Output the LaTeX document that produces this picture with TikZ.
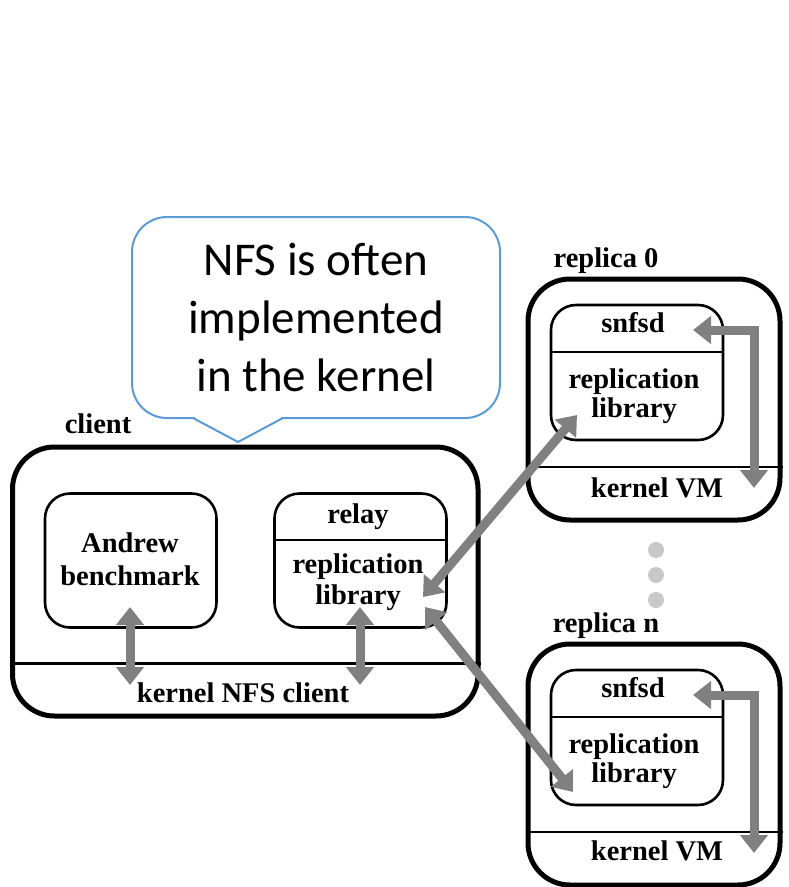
\documentclass[tikz,border=0pt]{standalone}
\usepackage{fontspec}
\setmainfont{Liberation Serif}
\newfontfamily\calloutfont{Carlito}
\usetikzlibrary{arrows.meta}
\definecolor{arrowgray}{HTML}{808080}
\definecolor{dotgray}{HTML}{C8C8C8}
\definecolor{calloutblue}{HTML}{5B9BD5}
\begin{document}
\begin{tikzpicture}[x=1pt,y=-1pt,
  hostbox/.style={draw, line width=5pt, rounded corners=42pt, inner sep=0pt},
  procbox/.style={draw, line width=2.6pt, rounded corners=25pt, inner sep=0pt,
    minimum width=172pt, minimum height=135pt},
  divider/.style={line width=2.6pt},
  lbl/.style={anchor=base, inner sep=0pt, font=\fontsize{28.5}{33}\selectfont\bfseries},
  ctext/.style={anchor=base, inner sep=0pt, font=\calloutfont\fontsize{47}{58}\selectfont},
  garrow/.style={draw=arrowgray, line width=9pt,
    {Triangle[width=27pt,length=18pt]}-{Triangle[width=27pt,length=18pt]}},
  dot/.style={circle, fill=dotgray, minimum size=16pt, inner sep=0pt}]
\useasboundingbox (0,0) rectangle (788,887);

% client host
\node[hostbox, minimum width=465.5pt, minimum height=269pt] (client) at (245.25,581.5) {};
\coordinate (cdiv) at (0,663.5);
\draw[divider] (client.west |- cdiv) -- (client.east |- cdiv);
\node[procbox, minimum width=171.5pt, minimum height=134pt] (andrew) at (130.75,560.5) {};
\node[procbox, minimum height=134pt] (relay) at (360.5,560.5) {};
\coordinate (rdiv) at (0,540);
\draw[divider] (relay.west |- rdiv) -- (relay.east |- rdiv);

\node[lbl] (clientlbl) at (98,433) {client};
\node[lbl] (andrewA) at (130,552) {Andrew};
\node[lbl] (andrewB) at (130,585) {benchmark};
\node[lbl] (relaylbl) at (358,523) {relay};
\node[lbl] (relrepA) at (358,573) {replication};
\node[lbl] (relrepB) at (358,604) {library};
\node[lbl] (nfsclient) at (243,702) {kernel NFS client};

% replica 0
\node[hostbox, minimum width=252pt, minimum height=241pt] (rep0) at (654,399.5) {};
\coordinate (r0div) at (0,467);
\draw[divider] (rep0.west |- r0div) -- (rep0.east |- r0div);
\node[procbox] (rep0in) at (637,372.5) {};
\coordinate (r0indiv) at (0,352);
\draw[divider] (rep0in.west |- r0indiv) -- (rep0in.east |- r0indiv);
\node[lbl] (rep0lbl) at (606,267) {replica 0};
\node[lbl] (snfsd0) at (633,332) {snfsd};
\node[lbl] (rep0A) at (634,388) {replication};
\node[lbl] (rep0B) at (634,417) {library};
\node[lbl] (vm0) at (657,497) {kernel VM};

% replica n
\node[hostbox, minimum width=252pt, minimum height=241pt] (repn) at (654,764.5) {};
\coordinate (rndiv) at (0,832);
\draw[divider] (repn.west |- rndiv) -- (repn.east |- rndiv);
\node[procbox] (repnin) at (637,737.5) {};
\coordinate (rnindiv) at (0,717);
\draw[divider] (repnin.west |- rnindiv) -- (repnin.east |- rnindiv);
\node[lbl] (repnlbl) at (606,632) {replica n};
\node[lbl] (snfsdn) at (633,697) {snfsd};
\node[lbl] (repnA) at (634,753) {replication};
\node[lbl] (repnB) at (634,782) {library};
\node[lbl] (vmn) at (657,860) {kernel VM};

% ellipsis between replicas
\node[dot] (dotA) at (656,550) {};
\node[dot] (dotB) at (656,575) {};
\node[dot] (dotC) at (656,600) {};

% arrows
\coordinate (andrewTop) at (130,607);
\coordinate (andrewBot) at (130,685);
\draw[garrow] (andrewTop) -- (andrewBot);
\coordinate (relayTop) at (360,607);
\coordinate (relayBot) at (360,685);
\draw[garrow] (relayTop) -- (relayBot);
\coordinate (relayR0) at (423,597);
\coordinate (rep0L) at (577,415);
\draw[garrow] (relayR0) -- (rep0L);
\coordinate (relayRn) at (425,607);
\coordinate (repnL) at (573,792);
\draw[garrow] (relayRn) -- (repnL);
\coordinate (snfsd0R) at (693,330);
\coordinate (vm0R) at (754,488);
\draw[garrow] (snfsd0R) -| (vm0R);
\coordinate (snfsdnR) at (693,695);
\coordinate (vmnR) at (754,853);
\draw[garrow] (snfsdnR) -| (vmnR);

% callout
\node[draw=calloutblue, line width=2pt, rounded corners=35pt, inner sep=0pt,
  minimum width=368pt, minimum height=201pt] (callout) at (316,317.5) {};
\coordinate (ptrL) at (193,418);
\coordinate (ptrR) at (283,418);
\coordinate (ptrTip) at (238,442);
\fill[white] (195,415) rectangle (281,421);
\draw[calloutblue, line width=2pt, line join=miter] (ptrL) -- (ptrTip) -- (ptrR);
\node[ctext] (c1) at (316,275) {NFS is often};
\node[ctext] (c2) at (316,333) {implemented};
\node[ctext] (c3) at (316,391) {in the kernel};
\end{tikzpicture}
\end{document}
